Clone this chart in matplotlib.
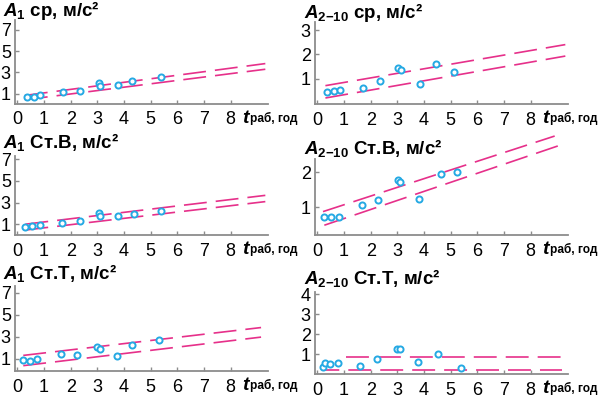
import matplotlib
matplotlib.use("Agg")
import numpy as np
import matplotlib.pyplot as plt

plt.rcParams['font.family'] = ['Liberation Sans', 'DejaVu Sans']
plt.rcParams['mathtext.fontset'] = 'custom'
plt.rcParams['mathtext.rm'] = 'Liberation Sans:bold'
plt.rcParams['mathtext.it'] = 'Liberation Sans:italic:bold'
plt.rcParams['mathtext.bf'] = 'Liberation Sans:bold'
plt.rcParams['lines.scale_dashes'] = False

# --- data: working time (years) and amplitude (m/s^2) ---
# band lines are stored as [intercept, slope] and [t_start, t_end]
a1_sr_t = [0.37, 0.62, 0.84, 1.72, 2.35, 3.07, 3.11, 3.79, 4.30, 5.40]
a1_sr_a = [0.69, 0.75, 0.88, 1.15, 1.31, 2.05, 1.77, 1.80, 2.23, 2.57]
a1_sr_hi, a1_sr_hi_span = [0.76, 0.330], [0.28, 9.30]
a1_sr_lo, a1_sr_lo_span = [0.36, 0.316], [0.28, 9.30]

a210_sr_t = [0.37, 0.62, 0.84, 1.70, 2.35, 3.04, 3.13, 3.85, 4.43, 5.14]
a210_sr_a = [0.44, 0.47, 0.52, 0.63, 0.89, 1.43, 1.37, 0.79, 1.61, 1.28]
a210_sr_hi, a210_sr_hi_span = [0.65, 0.188], [0.30, 9.30]
a210_sr_lo, a210_sr_lo_span = [0.14, 0.192], [0.30, 9.30]

a1_v_t = [0.30, 0.55, 0.84, 1.69, 2.35, 3.07, 3.11, 3.79, 4.39, 5.40]
a1_v_a = [0.70, 0.85, 0.88, 1.12, 1.27, 1.99, 1.72, 1.75, 1.93, 2.25]
a1_v_hi, a1_v_hi_span = [0.91, 0.296], [0.30, 9.30]
a1_v_lo, a1_v_lo_span = [0.37, 0.292], [0.30, 9.30]

a210_v_t = [0.26, 0.52, 0.81, 1.66, 2.29, 3.03, 3.11, 3.81, 4.64, 5.25]
a210_v_a = [0.74, 0.73, 0.74, 1.06, 1.21, 1.77, 1.72, 1.25, 1.95, 2.00]
a210_v_hi, a210_v_hi_span = [0.83, 0.246], [0.21, 8.90]
a210_v_lo, a210_v_lo_span = [0.43, 0.256], [0.26, 9.32]

a1_t_t = [0.22, 0.47, 0.74, 1.62, 2.23, 2.98, 3.08, 3.74, 4.29, 5.33]
a1_t_a = [0.91, 0.85, 0.97, 1.43, 1.34, 2.08, 1.92, 1.22, 2.26, 2.75]
a1_t_hi, a1_t_hi_span = [1.25, 0.283], [0.22, 9.14]
a1_t_lo, a1_t_lo_span = [0.32, 0.290], [0.22, 9.14]

a210_t_t = [0.22, 0.30, 0.49, 0.77, 1.60, 2.23, 2.98, 3.08, 3.76, 4.52, 5.37]
a210_t_a = [0.33, 0.53, 0.50, 0.53, 0.40, 0.73, 1.27, 1.27, 0.62, 1.03, 0.32]
a210_t_hi, a210_t_hi_span = [0.87, 0.0], [1.06, 9.17]
a210_t_lo, a210_t_lo_span = [0.20, 0.0], [0.24, 9.17]

x_ticks = [0, 1, 2, 3, 4, 5, 6, 7, 8]
y_ticks_a1 = [1, 3, 5, 7]

titles = [r"$A_{1}$ ср, м/с²", r"$A_{2{-}10}$ ср, м/с²",
          r"$A_{1}$ Ст.В, м/с²", r"$A_{2{-}10}$ Ст.В, м/с²",
          r"$A_{1}$ Ст.Т, м/с²", r"$A_{2{-}10}$ Ст.Т, м/с²"]
x_main, x_sub = "t", "раб, год"

LINE_C = "#e6308a"
DOT_C = "#25a9e3"
AXIS_C = "#8c8c8c"
W, H = 600, 398

panels = [
    # t, a, hi, hi_span, lo, lo_span, ylim, yticks, (left, top, bottom) px, title (x, baseline) px
    (a1_sr_t, a1_sr_a, a1_sr_hi, a1_sr_hi_span, a1_sr_lo, a1_sr_lo_span,
     (0.1, 7.9), y_ticks_a1, (15, 20, 103.5), (3, 15.5)),
    (a210_sr_t, a210_sr_a, a210_sr_hi, a210_sr_hi_span, a210_sr_lo, a210_sr_lo_span,
     (-0.05, 3.33), [1, 2, 3], (315, 22, 104), (304, 18.5)),
    (a1_v_t, a1_v_a, a1_v_hi, a1_v_hi_span, a1_v_lo, a1_v_lo_span,
     (0.0, 7.3), y_ticks_a1, (15, 156, 235), (3, 148)),
    (a210_v_t, a210_v_a, a210_v_hi, a210_v_hi_span, a210_v_lo, a210_v_lo_span,
     (0.22, 2.37), [1, 2], (315, 159, 235), (304, 154)),
    (a1_t_t, a1_t_a, a1_t_hi, a1_t_hi_span, a1_t_lo, a1_t_lo_span,
     (-0.1, 7.6), y_ticks_a1, (15, 286, 371), (3, 279)),
    (a210_t_t, a210_t_a, a210_t_hi, a210_t_hi_span, a210_t_lo, a210_t_lo_span,
     (0.0, 4.12), [1, 2, 3, 4], (315, 292, 374), (304, 284)),
]

fig = plt.figure(figsize=(W / 100, H / 100), dpi=100)

for i, (t, a, hi, hi_span, lo, lo_span, ylim, yticks, rect, tpos) in enumerate(panels):
    left, top, bottom = rect
    ax = fig.add_axes([left / W, 1 - bottom / H, 253 / W, (bottom - top) / H])
    ax.set_xlim(-0.09, 9.4)
    ax.set_ylim(*ylim)

    for coef, span in ((hi, hi_span), (lo, lo_span)):
        xs = np.array(span)
        off = 5.5 if i == 5 and coef is lo else 0
        ax.plot(xs, coef[0] + coef[1] * xs, color=LINE_C, lw=1.2,
                linestyle=(off, (16.5, 6.5)), clip_on=False, zorder=2)

    ax.plot(t, a, 'o', ms=4.4, mfc='white', mec=DOT_C, mew=1.4, zorder=3)

    for s in ('top', 'right'):
        ax.spines[s].set_visible(False)
    for s in ('left', 'bottom'):
        ax.spines[s].set_color(AXIS_C)
        ax.spines[s].set_linewidth(1.3)
    ax.set_xticks(x_ticks)
    ax.set_yticks(yticks)
    ax.tick_params(axis='x', direction='in', length=3, width=1, color=AXIS_C,
                   labelsize=13, pad=5.5)
    ax.tick_params(axis='y', direction='in', length=3, width=1, color=AXIS_C,
                   labelsize=13, pad=3)

    # axis label "t" with a small bold subscript
    ax.annotate(x_main, xy=(8.43, 0), xycoords=('data', 'axes fraction'),
                xytext=(0, -14), textcoords='offset points', ha='left',
                va='baseline', fontsize=14, fontweight='bold', style='italic',
                annotation_clip=False)
    ax.annotate(x_sub, xy=(8.43, 0), xycoords=('data', 'axes fraction'),
                xytext=(6, -13.2), textcoords='offset points', ha='left',
                va='baseline', fontsize=8.6, fontweight='bold',
                annotation_clip=False)

    fig.text(tpos[0] / W, 1 - tpos[1] / H, titles[i], fontsize=13.5,
             fontweight='bold', ha='left', va='baseline')

fig.savefig("out.png", dpi=100)
